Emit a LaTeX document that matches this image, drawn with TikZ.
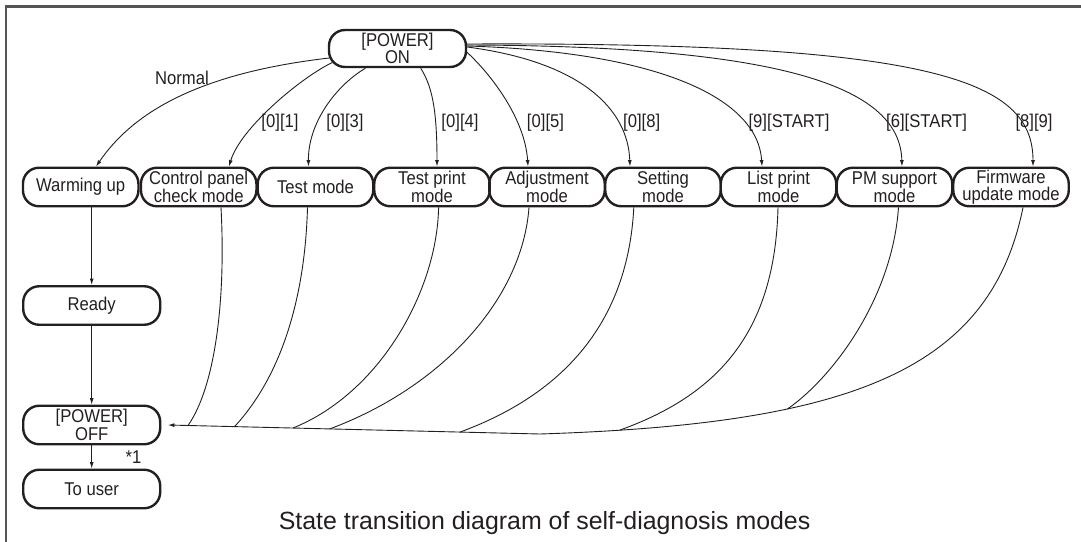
\documentclass[tikz,border=0pt]{standalone}
\usepackage{fontspec}
\setmainfont{Liberation Sans}
\newfontfamily\boxfont{Liberation Sans}[FakeStretch=0.9]
\usetikzlibrary{arrows.meta,calc}
\definecolor{ink}{HTML}{231F20}
\definecolor{framegray}{HTML}{555555}
\begin{document}
\begin{tikzpicture}[x=1pt,y=-1pt,
  state/.style={draw=ink, line width=2.4pt, rounded corners=16pt, minimum width=115.5pt, minimum height=38.5pt, inner sep=0pt, align=center, font=\boxfont\fontsize{18.5}{16.5}\selectfont, text=ink},
  wide/.style={minimum width=137pt},
  conn/.style={draw=ink, line width=0.9pt},
  arr/.style={conn, -{Latex[length=6.5pt,width=4pt]}},
  lbl/.style={font=\boxfont\fontsize{18.5}{15.5}\selectfont, text=ink, inner sep=0pt, anchor=base}]
\useasboundingbox (0,0) rectangle (1081,541);
\draw[framegray, line width=2.2pt] (6,545) -- (6,6.5) -- (1085,6.5);

% states
\node[state, wide, minimum height=37pt] (on) at (397.5,48.5) {[POWER]\\ON};
\node[state] (warm) at (80.7,187) {Warming up};
\node[state] (cp) at (198.7,187) {Control panel\\check mode};
\node[state] (test) at (315.5,187) {Test mode};
\node[state] (tprint) at (432,187) {Test print\\mode};
\node[state] (adj) at (547,187) {Adjustment\\mode};
\node[state] (set) at (663,187) {Setting\\mode};
\node[state] (list) at (778.5,187) {List print\\mode};
\node[state] (pm) at (894.5,187) {PM support\\mode};
\node[state] (fw) at (1011,187) {Firmware\\update mode};
\node[state, wide] (ready) at (91.7,305.5) {Ready};
\node[state, wide] (off) at (91.7,425) {[POWER]\\OFF};
\node[state, wide] (user) at (91.7,489) {To user};

% left column
\draw[arr] (ready.north |- warm.south) -- (ready.north);
\draw[arr] (ready.south) -- (off.north);
\draw[arr] (off.south) -- (user.north);
\node[lbl] (star) at (133.5,463) {*1};

% transitions from POWER ON
\draw[arr] ($(on.west)+(1.5,9.5)$) .. controls +(-139,16) and +(34,-49.5) .. ([xshift=15.3pt]warm.north);
\draw[arr] ($(on.west)+(4.5,14)$) .. controls +(-33,16) and +(11,-37.5) .. ([xshift=30.3pt]cp.north);
\draw[arr] ([xshift=-32pt]on.south) .. controls +(-30.5,18) and +(-0.6,-42.5) .. ([xshift=-7pt]test.north);
\draw[arr] ([xshift=23.2pt]on.south) .. controls +(11.3,18) and +(0,-57.5) .. ([xshift=5pt]tprint.north);
\draw[arr] ($(on.east)+(-0.5,3.5)$) .. controls +(25,23) and +(-3,-47.5) .. ([xshift=-19pt]adj.north);
\draw[arr] ($(on.east)+(0,-1.5)$) .. controls +(114,15) and +(-2,-57.5) .. ([xshift=-33pt]set.north);
\draw[arr] ($(on.east)+(0,-2.5)$) .. controls +(194,6) and +(-4,-67.5) .. ([xshift=-16.5pt]list.north);
\draw[arr] ($(on.east)+(0,-3.5)$) .. controls +(324,1) and +(-2,-77.5) .. ([xshift=7.5pt]pm.north);
\draw[arr] ($(on.east)+(0,-4.5)$) .. controls +(464,-2) and +(0,-87.5) .. ([xshift=22pt]fw.north);

\node[lbl] (n0) at (182,84) {Normal};
\node[lbl] (n1) at (280,127) {[0][1]};
\node[lbl] (n3) at (345,127) {[0][3]};
\node[lbl] (n4) at (460,127) {[0][4]};
\node[lbl] (n5) at (545.5,127) {[0][5]};
\node[lbl] (n8) at (641.7,127) {[0][8]};
\node[lbl] (n9) at (789,127) {[9][START]};
\node[lbl] (n6) at (926.6,127) {[6][START]};
\node[lbl] (n89) at (1034,127) {[8][9]};

% return to POWER OFF
\coordinate (j) at (540,434);
\draw[arr] ([xshift=12pt]fw.south) .. controls +(-33,163.5) and +(310,-10) .. (j)
   coordinate[pos=0.91] (jl) coordinate[pos=0.68] (jp)
   -- ([xshift=6.5pt]off.east)
   coordinate[pos=0.215] (js) coordinate[pos=0.565] (ja) coordinate[pos=0.664] (jt)
   coordinate[pos=0.821] (jte) coordinate[pos=0.946] (jc);
\draw[conn] ([xshift=22.3pt]cp.south) .. controls +(5,93.5) and +(27,-38.4) .. (jc);
\draw[conn] ([xshift=-8pt]test.south) .. controls +(-2.6,93.5) and +(45.5,-49) .. (jte);
\draw[conn] ([xshift=6.6pt]tprint.south) .. controls +(-1.6,83.5) and +(87,-35) .. (jt);
\draw[conn] ([xshift=-18pt]adj.south) .. controls +(-7,93.5) and +(110,-41) .. (ja);
\draw[conn] ([xshift=-29.2pt]set.south) .. controls +(-5.8,113.5) and +(105,-38.5) .. (js);
\draw[conn] ([xshift=-0.5pt]list.south) .. controls +(-3,123.5) and +(100,-36) .. (jl);
\draw[conn] ([xshift=4pt]pm.south) .. controls +(-6.6,93.5) and +(43,-29.6) .. (jp);

\node[font=\fontsize{24.9}{28}\selectfont, text=ink, inner sep=0pt, anchor=base] (cap) at (544.6,529) {State transition diagram of self-diagnosis modes};
\end{tikzpicture}
\end{document}
